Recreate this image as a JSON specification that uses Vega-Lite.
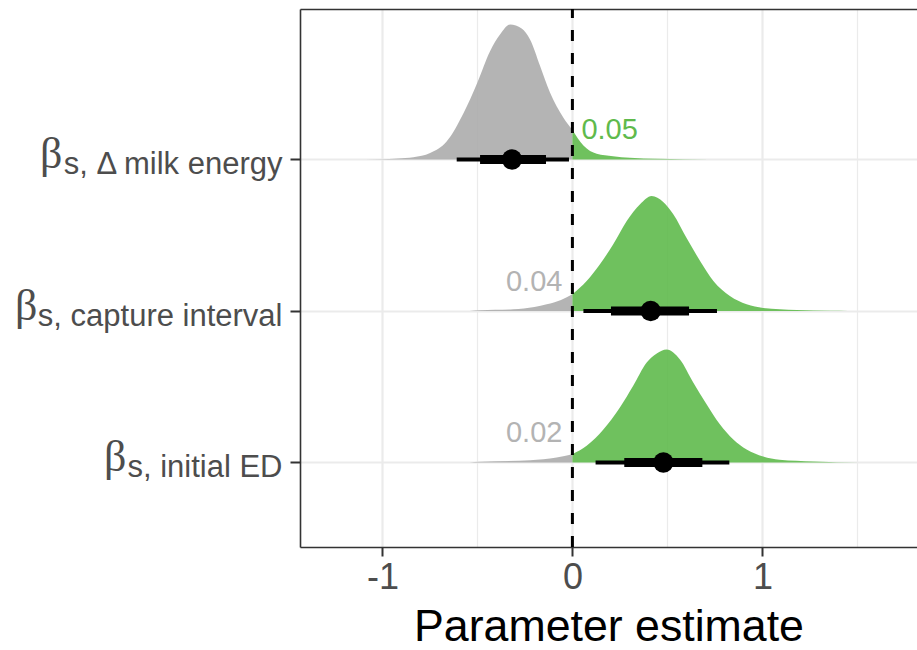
{
  "$schema": "https://vega.github.io/schema/vega-lite/v6.json",
  "width": 617,
  "height": 538,
  "autosize": {"type": "none"},
  "padding": {"left": 300, "top": 9, "right": 0, "bottom": 103},
  "background": "white",
  "config": {
    "view": {"stroke": null},
    "font": "Liberation Sans",
    "axis": {"labelFont": "Liberation Sans", "titleFont": "Liberation Sans"}
  },
  "datasets": {
    "slab": [
      {"row": 3, "x": -1.17, "top": 3.0, "side": "neg"},
      {"row": 3, "x": -1.01, "top": 3.002, "side": "neg"},
      {"row": 3, "x": -0.92, "top": 3.0066, "side": "neg"},
      {"row": 3, "x": -0.837, "top": 3.0152, "side": "neg"},
      {"row": 3, "x": -0.749, "top": 3.0429, "side": "neg"},
      {"row": 3, "x": -0.662, "top": 3.1188, "side": "neg"},
      {"row": 3, "x": -0.574, "top": 3.3036, "side": "neg"},
      {"row": 3, "x": -0.5, "top": 3.5083, "side": "neg"},
      {"row": 3, "x": -0.434, "top": 3.7129, "side": "neg"},
      {"row": 3, "x": -0.381, "top": 3.8251, "side": "neg"},
      {"row": 3, "x": -0.328, "top": 3.8911, "side": "neg"},
      {"row": 3, "x": -0.267, "top": 3.8647, "side": "neg"},
      {"row": 3, "x": -0.223, "top": 3.7921, "side": "neg"},
      {"row": 3, "x": -0.171, "top": 3.6205, "side": "neg"},
      {"row": 3, "x": -0.118, "top": 3.4422, "side": "neg"},
      {"row": 3, "x": -0.048, "top": 3.2772, "side": "neg"},
      {"row": 3, "x": 0, "top": 3.195, "side": "neg"},
      {"row": 3, "x": 0, "top": 3.195, "side": "pos"},
      {"row": 3, "x": 0.058, "top": 3.0924, "side": "pos"},
      {"row": 3, "x": 0.128, "top": 3.0376, "side": "pos"},
      {"row": 3, "x": 0.214, "top": 3.0218, "side": "pos"},
      {"row": 3, "x": 0.303, "top": 3.0112, "side": "pos"},
      {"row": 3, "x": 0.45, "top": 3.0046, "side": "pos"},
      {"row": 3, "x": 0.72, "top": 3.0, "side": "pos"},
      {"row": 2, "x": -0.54, "top": 2.0, "side": "neg"},
      {"row": 2, "x": -0.486, "top": 2.0046, "side": "neg"},
      {"row": 2, "x": -0.311, "top": 2.0112, "side": "neg"},
      {"row": 2, "x": -0.2, "top": 2.0264, "side": "neg"},
      {"row": 2, "x": -0.135, "top": 2.0442, "side": "neg"},
      {"row": 2, "x": -0.06, "top": 2.0726, "side": "neg"},
      {"row": 2, "x": 0, "top": 2.1102, "side": "neg"},
      {"row": 2, "x": 0, "top": 2.1102, "side": "pos"},
      {"row": 2, "x": 0.075, "top": 2.198, "side": "pos"},
      {"row": 2, "x": 0.145, "top": 2.3083, "side": "pos"},
      {"row": 2, "x": 0.215, "top": 2.4403, "side": "pos"},
      {"row": 2, "x": 0.286, "top": 2.5941, "side": "pos"},
      {"row": 2, "x": 0.356, "top": 2.7043, "side": "pos"},
      {"row": 2, "x": 0.417, "top": 2.7591, "side": "pos"},
      {"row": 2, "x": 0.478, "top": 2.7195, "side": "pos"},
      {"row": 2, "x": 0.531, "top": 2.6383, "side": "pos"},
      {"row": 2, "x": 0.601, "top": 2.4818, "side": "pos"},
      {"row": 2, "x": 0.672, "top": 2.33, "side": "pos"},
      {"row": 2, "x": 0.742, "top": 2.198, "side": "pos"},
      {"row": 2, "x": 0.829, "top": 2.099, "side": "pos"},
      {"row": 2, "x": 0.917, "top": 2.0442, "side": "pos"},
      {"row": 2, "x": 1.004, "top": 2.0198, "side": "pos"},
      {"row": 2, "x": 1.18, "top": 2.0066, "side": "pos"},
      {"row": 2, "x": 1.36, "top": 2.0013, "side": "pos"},
      {"row": 2, "x": 1.45, "top": 2.0, "side": "pos"},
      {"row": 1, "x": -0.54, "top": 1.0, "side": "neg"},
      {"row": 1, "x": -0.486, "top": 1.0046, "side": "neg"},
      {"row": 1, "x": -0.223, "top": 1.0152, "side": "neg"},
      {"row": 1, "x": -0.083, "top": 1.033, "side": "neg"},
      {"row": 1, "x": 0, "top": 1.0548, "side": "neg"},
      {"row": 1, "x": 0, "top": 1.0548, "side": "pos"},
      {"row": 1, "x": 0.075, "top": 1.1102, "side": "pos"},
      {"row": 1, "x": 0.163, "top": 1.2178, "side": "pos"},
      {"row": 1, "x": 0.25, "top": 1.363, "side": "pos"},
      {"row": 1, "x": 0.32, "top": 1.5063, "side": "pos"},
      {"row": 1, "x": 0.391, "top": 1.6601, "side": "pos"},
      {"row": 1, "x": 0.444, "top": 1.7195, "side": "pos"},
      {"row": 1, "x": 0.496, "top": 1.7459, "side": "pos"},
      {"row": 1, "x": 0.566, "top": 1.6799, "side": "pos"},
      {"row": 1, "x": 0.636, "top": 1.5281, "side": "pos"},
      {"row": 1, "x": 0.707, "top": 1.3828, "side": "pos"},
      {"row": 1, "x": 0.777, "top": 1.2508, "side": "pos"},
      {"row": 1, "x": 0.847, "top": 1.1518, "side": "pos"},
      {"row": 1, "x": 0.917, "top": 1.0858, "side": "pos"},
      {"row": 1, "x": 1.004, "top": 1.0396, "side": "pos"},
      {"row": 1, "x": 1.09, "top": 1.0178, "side": "pos"},
      {"row": 1, "x": 1.27, "top": 1.0066, "side": "pos"},
      {"row": 1, "x": 1.51, "top": 1.0, "side": "pos"}
    ],
    "iv": [
      {"row": 3, "lo95": -0.609, "hi95": -0.018, "lo66": -0.486, "hi66": -0.139, "med": -0.318, "p": "0.05", "pside": "pos"},
      {"row": 2, "lo95": 0.058, "hi95": 0.761, "lo66": 0.203, "hi66": 0.614, "med": 0.412, "p": "0.04", "pside": "neg"},
      {"row": 1, "lo95": 0.122, "hi95": 0.826, "lo66": 0.273, "hi66": 0.684, "med": 0.479, "p": "0.02", "pside": "neg"}
    ]
  },
  "layer": [
    {
      "layer": [
        {
          "data": {"name": "slab"},
          "mark": {"type": "area", "interpolate": "monotone", "fillOpacity": 0.9},
          "encoding": {
            "x": {
              "field": "x", "type": "quantitative",
              "scale": {"domain": [-1.4337, 1.8137], "nice": false, "zero": false},
              "axis": {
                "values": [-1, -0.5, 0, 0.5, 1, 1.5],
                "labelExpr": "abs(datum.value % 1) > 0.01 ? '' : ((datum.value < 0 ? '-' : '') + format(abs(datum.value), 'd'))",
                "labelFontSize": 36,
                "labelColor": "#4D4D4D",
                "labelPadding": 4,
                "labelOverlap": false,
                "labelFlush": false,
                "tickSize": 9,
                "tickWidth": 2,
                "tickColor": "#333333",
                "tickOpacity": {"condition": {"test": "abs(datum.value % 1) > 0.01", "value": 0}, "value": 1},
                "grid": true,
                "gridColor": "#EBEBEB",
                "gridWidth": {"condition": {"test": "abs(datum.value % 1) > 0.01", "value": 1.2}, "value": 2.2},
                "domainColor": "#333333",
                "domainWidth": 1.6,
                "title": "Parameter estimate",
                "titleFontSize": 44.7,
                "titleFontWeight": "normal",
                "titleColor": "#000000",
                "titlePadding": 10
              }
            },
            "y": {
              "field": "top", "type": "quantitative", "stack": null,
              "scale": {"domain": [0.442, 3.993], "nice": false, "zero": false},
              "axis": {
                "values": [1, 2, 3, 1.0001, 2.0001, 3.0001],
                "title": null,
                "labelExpr": "datum.value % 1 > 0.00001 ? 'β' : (datum.value > 2.5 ? 's, Δ milk energy' : (datum.value > 1.5 ? 's, capture interval' : 's, initial ED'))",
                "labelOverlap": false,
                "labelLimit": 500,
                "labelAlign": "right",
                "labelBaseline": "alphabetic",
                "labelColor": "#4D4D4D",
                "labelFont": {"condition": {"test": "datum.value % 1 > 0.00001", "value": "Liberation Serif"}, "value": "Liberation Sans"},
                "labelFontSize": {"condition": {"test": "datum.value % 1 > 0.00001", "value": 44}, "value": 31},
                "labelOffset": {"condition": {"test": "datum.value % 1 > 0.00001", "value": 8.5}, "value": 14.5},
                "labelPadding": {"condition": [
                  {"test": "datum.value > 2.5 && datum.value % 1 > 0.00001", "value": 228},
                  {"test": "datum.value > 1.5 && datum.value < 2.5 && datum.value % 1 > 0.00001", "value": 253},
                  {"test": "datum.value < 1.5 && datum.value % 1 > 0.00001", "value": 164}
                ], "value": 8},
                "tickSize": 10,
                "tickWidth": 2,
                "tickColor": "#333333",
                "tickOpacity": {"condition": {"test": "datum.value % 1 > 0.00001", "value": 0}, "value": 1},
                "grid": true,
                "gridColor": "#EBEBEB",
                "gridWidth": 2.2,
                "gridOpacity": {"condition": {"test": "datum.value % 1 > 0.00001", "value": 0}, "value": 1},
                "domainColor": "#333333",
                "domainWidth": 1.6
              }
            },
            "y2": {"field": "row"},
            "color": {
              "field": "side", "type": "nominal",
              "scale": {"domain": ["neg", "pos"], "range": ["#ACACAC", "#5FBA4C"]},
              "legend": null
            },
            "detail": {"field": "row", "type": "nominal"}
          }
        },
        {
          "data": {"name": "iv"},
          "mark": {"type": "rule", "strokeWidth": 4, "color": "#000000"},
          "encoding": {
            "x": {"field": "lo95", "type": "quantitative"},
            "x2": {"field": "hi95"},
            "y": {"field": "row", "type": "quantitative"}
          }
        },
        {
          "data": {"name": "iv"},
          "mark": {"type": "rule", "strokeWidth": 9, "color": "#000000"},
          "encoding": {
            "x": {"field": "lo66", "type": "quantitative"},
            "x2": {"field": "hi66"},
            "y": {"field": "row", "type": "quantitative"}
          }
        },
        {
          "data": {"name": "iv"},
          "mark": {"type": "point", "filled": true, "size": 415, "color": "#000000", "opacity": 1, "shape": "circle"},
          "encoding": {
            "x": {"field": "med", "type": "quantitative"},
            "y": {"field": "row", "type": "quantitative"}
          }
        },
        {
          "data": {"name": "iv"},
          "transform": [{"filter": "datum.pside == 'pos'"}],
          "mark": {"type": "text", "align": "left", "baseline": "alphabetic", "dx": 9, "dy": -20, "fontSize": 29, "font": "Liberation Sans", "color": "#5FBA4C"},
          "encoding": {
            "x": {"datum": 0, "type": "quantitative"},
            "y": {"field": "row", "type": "quantitative"},
            "text": {"field": "p"}
          }
        },
        {
          "data": {"name": "iv"},
          "transform": [{"filter": "datum.pside == 'neg'"}],
          "mark": {"type": "text", "align": "right", "baseline": "alphabetic", "dx": -10, "dy": -20, "fontSize": 29, "font": "Liberation Sans", "color": "#B3B3B3"},
          "encoding": {
            "x": {"datum": 0, "type": "quantitative"},
            "y": {"field": "row", "type": "quantitative"},
            "text": {"field": "p"}
          }
        }
      ]
    },
    {
      "data": {"values": [{}]},
      "mark": {"type": "rule", "strokeDash": [11, 12], "strokeWidth": 3, "color": "#000000"},
      "encoding": {
        "x": {
          "datum": 0, "type": "quantitative",
          "axis": {"orient": "top", "labels": false, "ticks": false, "grid": false, "title": null, "domainColor": "#333333", "domainWidth": 1.6}
        },
        "y": {"datum": 0.442, "type": "quantitative"},
        "y2": {"datum": 3.993}
      }
    }
  ],
  "resolve": {"axis": {"x": "independent"}}
}
